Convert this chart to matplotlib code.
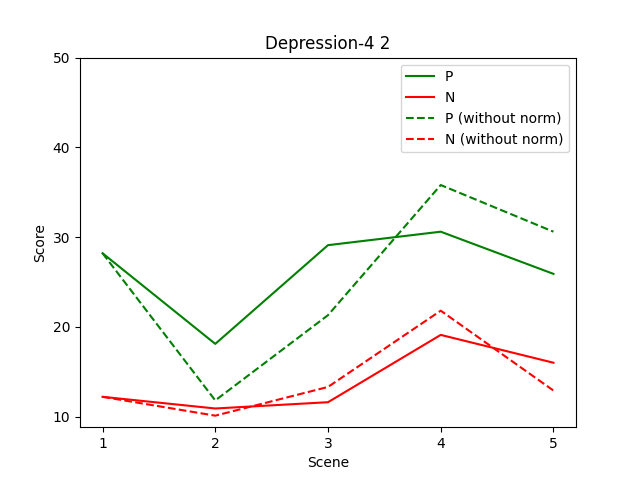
import matplotlib
matplotlib.use("Agg")
import matplotlib.pyplot as plt

scenes = [1, 2, 3, 4, 5]
p = [28.2, 18.1, 29.1, 30.6, 25.9]
n = [12.2, 10.9, 11.6, 19.1, 16.0]
p_raw = [28.2, 11.8, 21.3, 35.8, 30.6]
n_raw = [12.2, 10.1, 13.3, 21.8, 12.9]
yticks = [10, 20, 30, 40, 50]

fig, ax = plt.subplots(figsize=(6.4, 4.8), dpi=100)
ax.plot(scenes, p, color="green", label="P")
ax.plot(scenes, n, color="red", label="N")
ax.plot(scenes, p_raw, color="green", linestyle="--", label="P (without norm)")
ax.plot(scenes, n_raw, color="red", linestyle="--", label="N (without norm)")
ax.set_ylim(top=50)
ax.set_yticks(yticks)
ax.set_xticks(scenes)
ax.set_xlabel("Scene")
ax.set_ylabel("Score")
ax.set_title("Depression-4 2")
ax.legend(loc="upper right")
fig.savefig("out.png")
